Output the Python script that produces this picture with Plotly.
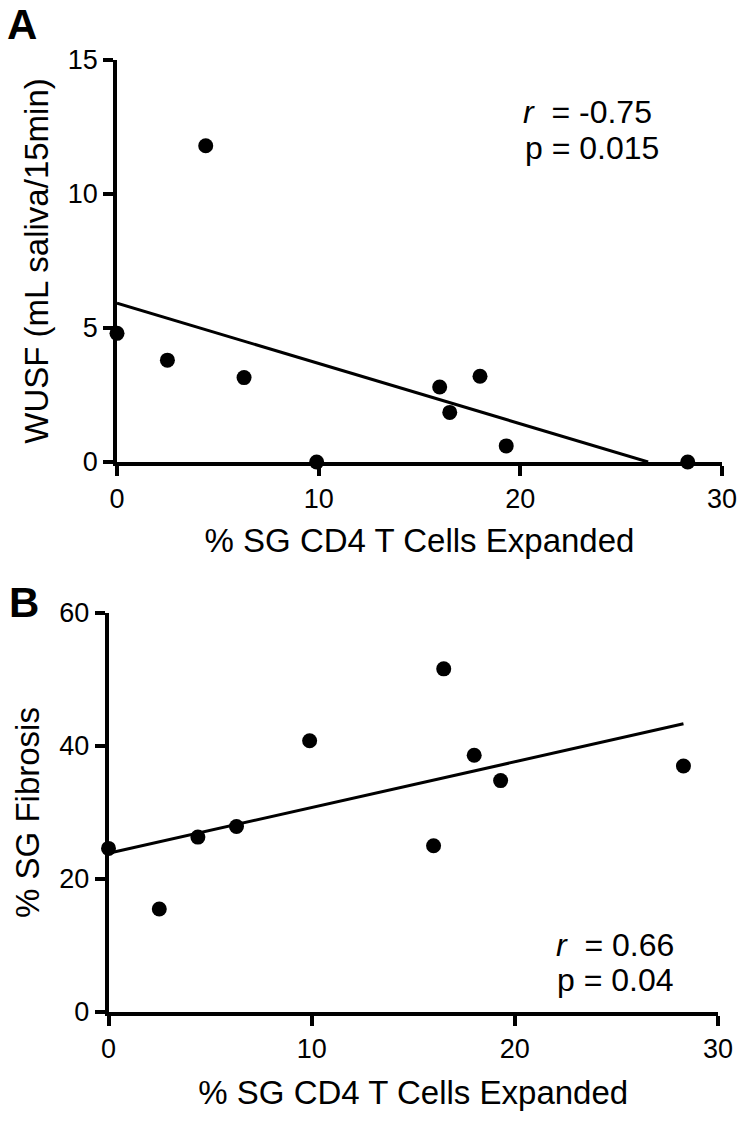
import numpy as np
import plotly.graph_objects as go

# % SG CD4 T cells expanded (shared x for both panels)
cd4_expanded = [0, 2.5, 4.4, 6.3, 9.9, 16.0, 16.5, 18.0, 19.3, 28.3]
# panel A: whole unstimulated salivary flow
wusf = [4.8, 3.8, 11.8, 3.15, 0, 2.8, 1.85, 3.2, 0.6, 0]
# panel B: % SG fibrosis
fibrosis = [24.6, 15.5, 26.3, 27.9, 40.8, 25.0, 51.6, 38.6, 34.8, 37.0]

stats_a = ["<i>r</i>  = -0.75", "p = 0.015"]
stats_b = ["<i>r</i>  = 0.66", "p = 0.04"]

FONT = "Liberation Sans, Arial, sans-serif"
BLACK = "#000000"
W, H = 750, 1126


def fit_line(x, y, floor=None):
    slope, icpt = np.polyfit(x, y, 1)
    x_end = max(x)
    if floor is not None and slope < 0:
        x_end = min(x_end, (floor - icpt) / slope)
    xs = np.array([0.0, x_end])
    return xs, slope * xs + icpt


fig = go.Figure()

for x, y, xa, ya in [
    (cd4_expanded, wusf, "x", "y"),
    (cd4_expanded, fibrosis, "x2", "y2"),
]:
    lx, ly = fit_line(np.array(x), np.array(y), floor=0.0)
    fig.add_trace(go.Scatter(
        x=lx, y=ly, mode="lines", xaxis=xa, yaxis=ya,
        line=dict(color=BLACK, width=3), cliponaxis=False,
        hoverinfo="skip",
    ))
    fig.add_trace(go.Scatter(
        x=x, y=y, mode="markers", xaxis=xa, yaxis=ya,
        marker=dict(color=BLACK, size=15, line=dict(width=0)),
        cliponaxis=False,
    ))

axis_style = dict(
    showgrid=False, zeroline=False, showline=True, linecolor=BLACK,
    linewidth=3.5, ticks="outside", ticklen=10, tickwidth=3.5,
    tickcolor=BLACK, tickfont=dict(family=FONT, size=27, color=BLACK),
    title_font=dict(family=FONT, size=33, color=BLACK),
    automargin=False,
)

fig.update_layout(
    width=W, height=H,
    margin=dict(l=0, r=0, t=0, b=0),
    paper_bgcolor="white", plot_bgcolor="white",
    showlegend=False,
    font=dict(family=FONT, color=BLACK),
    xaxis=dict(axis_style, domain=[117 / W, 722 / W], range=[0, 30],
               tickvals=[0, 10, 20, 30], anchor="y",
               title=dict(text="% SG CD4 T Cells Expanded", standoff=17)),
    yaxis=dict(axis_style, domain=[1 - 462 / H, 1 - 60 / H], range=[0, 15],
               tickvals=[0, 5, 10, 15], anchor="x",
               title=dict(text="WUSF (mL saliva/15min)", standoff=10)),
    xaxis2=dict(axis_style, domain=[108.5 / W, 718 / W], range=[0, 30],
                tickvals=[0, 10, 20, 30], anchor="y2",
                title=dict(text="% SG CD4 T Cells Expanded", standoff=19)),
    yaxis2=dict(axis_style, domain=[1 - 1012 / H, 1 - 613 / H], range=[0, 60],
                tickvals=[0, 20, 40, 60], anchor="x2",
                title=dict(text="% SG Fibrosis", standoff=11)),
)

annos = [
    dict(text="<b>A</b>", x=6, y=0, size=42, ya="top"),
    dict(text="<b>B</b>", x=8, y=602, size=42, ya="middle"),
    dict(text=stats_a[0], x=522, y=112, size=32, ya="middle"),
    dict(text=stats_a[1], x=524, y=148, size=32, ya="middle"),
    dict(text=stats_b[0], x=555, y=945, size=32, ya="middle"),
    dict(text=stats_b[1], x=556, y=980, size=32, ya="middle"),
]
for a in annos:
    fig.add_annotation(
        text=a["text"], x=a["x"] / W, y=1 - a["y"] / H,
        xref="paper", yref="paper", xanchor="left", yanchor=a["ya"],
        showarrow=False, borderpad=0,
        font=dict(family=FONT, size=a["size"], color=BLACK),
    )

# drop the default page margin so figure pixels line up with the window
fig.write_html(
    "out.html",
    config={"displayModeBar": False},
    post_script="document.body.style.margin='0';",
)
